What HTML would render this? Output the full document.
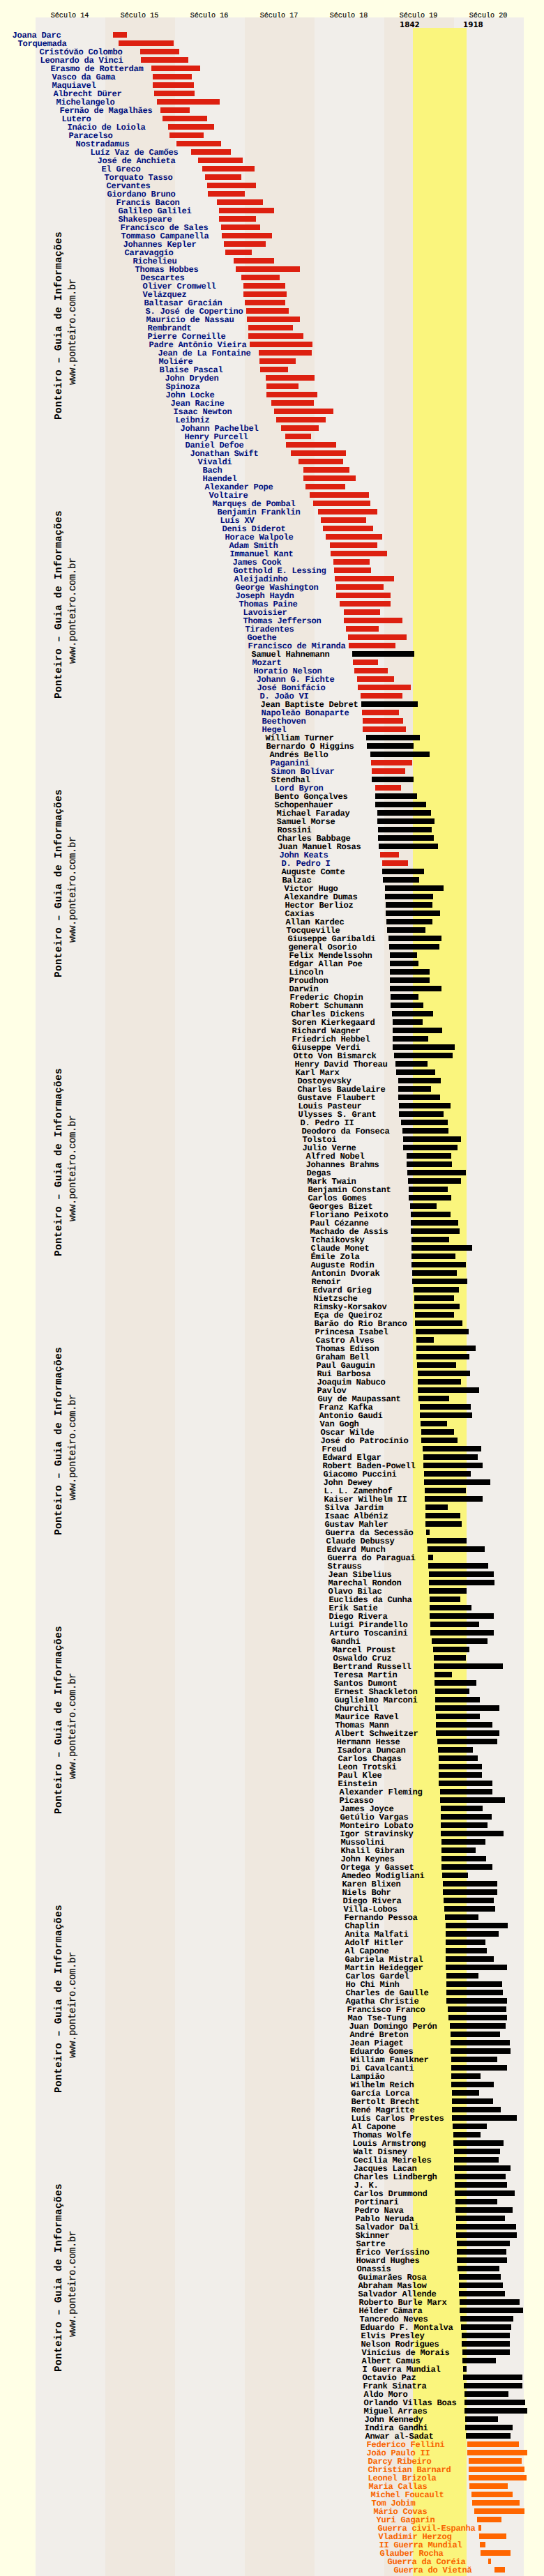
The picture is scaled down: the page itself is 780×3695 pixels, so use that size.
<!DOCTYPE html><html lang="pt"><head><meta charset="utf-8"><title>Linha do tempo</title><style>
html,body{margin:0;padding:0}
body{width:780px;height:3695px;position:relative;overflow:hidden;background:#ffffe6;font-family:"Liberation Mono","DejaVu Sans Mono",monospace}
.c{position:absolute;top:25px;height:3670px;width:100px}
.a{background:#f1eeea}.b{background:#efe8df}
.y{position:absolute;left:592px;top:40px;width:77px;height:3655px;background:#faf57d}
.h{position:absolute;top:15px;margin-left:-1px;width:100px;text-align:center;font-size:11.5px;line-height:14px;color:#000;transform:scaleX(.88);white-space:pre;-webkit-text-stroke:.2px #000}
.yr{position:absolute;top:30px;font:bold 11px/12px "DejaVu Sans","Liberation Sans",sans-serif;color:#000;transform:scaleX(.94);transform-origin:0 0}
.r{position:absolute;left:0;height:12px;width:780px}
.r b{position:absolute;top:1px;font-size:12.1px;letter-spacing:-.26px;text-rendering:geometricPrecision;line-height:12px;white-space:pre;font-weight:bold}
.r i{position:absolute;top:2px;height:8px}
.R b{color:#00107c}.R i{background:#dd2010}
.K b{color:#000}.K i{background:#000}
.O b{color:#f86400}.O i{background:#ff6600}
.v{position:absolute;left:0;width:0;height:0}
.v span{position:absolute;white-space:pre;transform-origin:0 0;transform:rotate(-90deg)}
.v .p{left:77px;top:0;font-weight:bold;font-size:14.4px;letter-spacing:.36px;line-height:15px;color:#000}
.v .w{left:98px;top:-50px;font-size:14px;letter-spacing:-.4px;line-height:13px;color:#111;-webkit-text-stroke:.2px #111}
</style></head><body>
<div class="c a" style="left:51px"></div>
<div class="c b" style="left:151px"></div>
<div class="c a" style="left:251px"></div>
<div class="c b" style="left:351px"></div>
<div class="c a" style="left:451px"></div>
<div class="c b" style="left:551px"></div>
<div class="c a" style="left:651px"></div>
<div class="y"></div>
<div class="h" style="left:51px">Século 14</div>
<div class="h" style="left:151px">Século 15</div>
<div class="h" style="left:251px">Século 16</div>
<div class="h" style="left:351px">Século 17</div>
<div class="h" style="left:451px">Século 18</div>
<div class="h" style="left:551px">Século 19</div>
<div class="h" style="left:651px">Século 20</div>
<div class="yr" style="left:573px">1842</div><div class="yr" style="left:664px">1918</div>
<div class="v" style="top:602px"><span class="p">Ponteiro – Guia de Informações</span><span class="w">www.ponteiro.com.br</span></div>
<div class="v" style="top:1002px"><span class="p">Ponteiro – Guia de Informações</span><span class="w">www.ponteiro.com.br</span></div>
<div class="v" style="top:1402px"><span class="p">Ponteiro – Guia de Informações</span><span class="w">www.ponteiro.com.br</span></div>
<div class="v" style="top:1802px"><span class="p">Ponteiro – Guia de Informações</span><span class="w">www.ponteiro.com.br</span></div>
<div class="v" style="top:2202px"><span class="p">Ponteiro – Guia de Informações</span><span class="w">www.ponteiro.com.br</span></div>
<div class="v" style="top:2602px"><span class="p">Ponteiro – Guia de Informações</span><span class="w">www.ponteiro.com.br</span></div>
<div class="v" style="top:3002px"><span class="p">Ponteiro – Guia de Informações</span><span class="w">www.ponteiro.com.br</span></div>
<div class="v" style="top:3402px"><span class="p">Ponteiro – Guia de Informações</span><span class="w">www.ponteiro.com.br</span></div>
<div class="r R" style="top:44px"><b style="left:17.5px">Joana Darc</b><i style="left:162px;width:20px"></i></div>
<div class="r R" style="top:56px"><b style="left:25.5px">Torquemada</b><i style="left:170px;width:79px"></i></div>
<div class="r R" style="top:68px"><b style="left:56.5px">Cristóvăo Colombo</b><i style="left:201px;width:56px"></i></div>
<div class="r R" style="top:80px"><b style="left:57.5px">Leonardo da Vinci</b><i style="left:202px;width:68px"></i></div>
<div class="r R" style="top:92px"><b style="left:72.5px">Erasmo de Rotterdam</b><i style="left:217px;width:70px"></i></div>
<div class="r R" style="top:104px"><b style="left:74.5px">Vasco da Gama</b><i style="left:219px;width:56px"></i></div>
<div class="r R" style="top:116px"><b style="left:74.5px">Maquiavel</b><i style="left:219px;width:59px"></i></div>
<div class="r R" style="top:128px"><b style="left:76.5px">Albrecht Dürer</b><i style="left:221px;width:58px"></i></div>
<div class="r R" style="top:140px"><b style="left:80.5px">Michelangelo</b><i style="left:225px;width:90px"></i></div>
<div class="r R" style="top:152px"><b style="left:85.5px">Fernăo de Magalhăes</b><i style="left:230px;width:42px"></i></div>
<div class="r R" style="top:164px"><b style="left:88.5px">Lutero</b><i style="left:233px;width:64px"></i></div>
<div class="r R" style="top:176px"><b style="left:96.5px">Inácio de Loiola</b><i style="left:241px;width:66px"></i></div>
<div class="r R" style="top:188px"><b style="left:98.5px">Paracelso</b><i style="left:243px;width:49px"></i></div>
<div class="r R" style="top:200px"><b style="left:108.5px">Nostradamus</b><i style="left:253px;width:64px"></i></div>
<div class="r R" style="top:212px"><b style="left:129.5px">Luíz Vaz de Camőes</b><i style="left:274px;width:57px"></i></div>
<div class="r R" style="top:224px"><b style="left:139.5px">José de Anchieta</b><i style="left:284px;width:64px"></i></div>
<div class="r R" style="top:236px"><b style="left:145.5px">El Greco</b><i style="left:290px;width:75px"></i></div>
<div class="r R" style="top:248px"><b style="left:149.5px">Torquato Tasso</b><i style="left:294px;width:52px"></i></div>
<div class="r R" style="top:260px"><b style="left:152.5px">Cervantes</b><i style="left:297px;width:70px"></i></div>
<div class="r R" style="top:272px"><b style="left:153.5px">Giordano Bruno</b><i style="left:298px;width:53px"></i></div>
<div class="r R" style="top:284px"><b style="left:166.5px">Francis Bacon</b><i style="left:311px;width:66px"></i></div>
<div class="r R" style="top:296px"><b style="left:169.5px">Galileo Galilei</b><i style="left:314px;width:79px"></i></div>
<div class="r R" style="top:308px"><b style="left:169.5px">Shakespeare</b><i style="left:314px;width:53px"></i></div>
<div class="r R" style="top:320px"><b style="left:172.5px">Francisco de Sales</b><i style="left:317px;width:56px"></i></div>
<div class="r R" style="top:332px"><b style="left:173.5px">Tommaso Campanella</b><i style="left:318px;width:72px"></i></div>
<div class="r R" style="top:344px"><b style="left:176.5px">Johannes Kepler</b><i style="left:321px;width:60px"></i></div>
<div class="r R" style="top:356px"><b style="left:178.5px">Caravaggio</b><i style="left:323px;width:38px"></i></div>
<div class="r R" style="top:368px"><b style="left:190.5px">Richelieu</b><i style="left:335px;width:58px"></i></div>
<div class="r R" style="top:380px"><b style="left:193.5px">Thomas Hobbes</b><i style="left:338px;width:92px"></i></div>
<div class="r R" style="top:392px"><b style="left:201.5px">Descartes</b><i style="left:346px;width:55px"></i></div>
<div class="r R" style="top:404px"><b style="left:204.5px">Oliver Cromwell</b><i style="left:349px;width:60px"></i></div>
<div class="r R" style="top:416px"><b style="left:204.5px">Velázquez</b><i style="left:349px;width:62px"></i></div>
<div class="r R" style="top:428px"><b style="left:206.5px">Baltasar Gracián</b><i style="left:351px;width:58px"></i></div>
<div class="r R" style="top:440px"><b style="left:208.5px">S. José de Copertino</b><i style="left:353px;width:61px"></i></div>
<div class="r R" style="top:452px"><b style="left:209.5px">Mauricio de Nassau</b><i style="left:354px;width:76px"></i></div>
<div class="r R" style="top:464px"><b style="left:211.5px">Rembrandt</b><i style="left:356px;width:64px"></i></div>
<div class="r R" style="top:476px"><b style="left:211.5px">Pierre Corneille</b><i style="left:356px;width:79px"></i></div>
<div class="r R" style="top:488px"><b style="left:213.5px">Padre Antônio Vieira</b><i style="left:358px;width:90px"></i></div>
<div class="r R" style="top:500px"><b style="left:226.5px">Jean de La Fontaine</b><i style="left:371px;width:76px"></i></div>
<div class="r R" style="top:512px"><b style="left:227.5px">Moliére</b><i style="left:372px;width:52px"></i></div>
<div class="r R" style="top:524px"><b style="left:228.5px">Blaise Pascal</b><i style="left:373px;width:40px"></i></div>
<div class="r R" style="top:536px"><b style="left:236.5px">John Dryden</b><i style="left:381px;width:70px"></i></div>
<div class="r R" style="top:548px"><b style="left:237.5px">Spinoza</b><i style="left:382px;width:46px"></i></div>
<div class="r R" style="top:560px"><b style="left:237.5px">John Locke</b><i style="left:382px;width:73px"></i></div>
<div class="r R" style="top:572px"><b style="left:244.5px">Jean Racine</b><i style="left:389px;width:61px"></i></div>
<div class="r R" style="top:584px"><b style="left:248.5px">Isaac Newton</b><i style="left:393px;width:85px"></i></div>
<div class="r R" style="top:596px"><b style="left:251.5px">Leibniz</b><i style="left:396px;width:71px"></i></div>
<div class="r R" style="top:608px"><b style="left:258.5px">Johann Pachelbel</b><i style="left:403px;width:54px"></i></div>
<div class="r R" style="top:620px"><b style="left:264.5px">Henry Purcell</b><i style="left:409px;width:37px"></i></div>
<div class="r R" style="top:632px"><b style="left:265.5px">Daniel Defoe</b><i style="left:410px;width:72px"></i></div>
<div class="r R" style="top:644px"><b style="left:272.5px">Jonathan Swift</b><i style="left:417px;width:79px"></i></div>
<div class="r R" style="top:656px"><b style="left:283.5px">Vivaldi</b><i style="left:428px;width:64px"></i></div>
<div class="r R" style="top:668px"><b style="left:290.5px">Bach</b><i style="left:435px;width:66px"></i></div>
<div class="r R" style="top:680px"><b style="left:290.5px">Haendel</b><i style="left:435px;width:75px"></i></div>
<div class="r R" style="top:692px"><b style="left:293.5px">Alexander Pope</b><i style="left:438px;width:57px"></i></div>
<div class="r R" style="top:704px"><b style="left:299.5px">Voltaire</b><i style="left:444px;width:85px"></i></div>
<div class="r R" style="top:716px"><b style="left:304.5px">Marquęs de Pombal</b><i style="left:449px;width:82px"></i></div>
<div class="r R" style="top:728px"><b style="left:311.5px">Benjamin Franklin</b><i style="left:456px;width:85px"></i></div>
<div class="r R" style="top:740px"><b style="left:315.5px">Luís XV</b><i style="left:460px;width:65px"></i></div>
<div class="r R" style="top:752px"><b style="left:318.5px">Denis Diderot</b><i style="left:463px;width:72px"></i></div>
<div class="r R" style="top:764px"><b style="left:322.5px">Horace Walpole</b><i style="left:467px;width:81px"></i></div>
<div class="r R" style="top:776px"><b style="left:328.5px">Adam Smith</b><i style="left:473px;width:68px"></i></div>
<div class="r R" style="top:788px"><b style="left:329.5px">Immanuel Kant</b><i style="left:474px;width:81px"></i></div>
<div class="r R" style="top:800px"><b style="left:333.5px">James Cook</b><i style="left:478px;width:52px"></i></div>
<div class="r R" style="top:812px"><b style="left:334.5px">Gotthold E. Lessing</b><i style="left:479px;width:53px"></i></div>
<div class="r R" style="top:824px"><b style="left:335.5px">Aleijadinho</b><i style="left:480px;width:85px"></i></div>
<div class="r R" style="top:836px"><b style="left:337.5px">George Washington</b><i style="left:482px;width:68px"></i></div>
<div class="r R" style="top:848px"><b style="left:337.5px">Joseph Haydn</b><i style="left:482px;width:78px"></i></div>
<div class="r R" style="top:860px"><b style="left:342.5px">Thomas Paine</b><i style="left:487px;width:73px"></i></div>
<div class="r R" style="top:872px"><b style="left:348.5px">Lavoisier</b><i style="left:493px;width:52px"></i></div>
<div class="r R" style="top:884px"><b style="left:348.5px">Thomas Jefferson</b><i style="left:493px;width:84px"></i></div>
<div class="r R" style="top:896px"><b style="left:351.5px">Tiradentes</b><i style="left:496px;width:47px"></i></div>
<div class="r R" style="top:908px"><b style="left:354.5px">Goethe</b><i style="left:499px;width:84px"></i></div>
<div class="r R" style="top:920px"><b style="left:355.5px">Francisco de Miranda</b><i style="left:500px;width:67px"></i></div>
<div class="r K" style="top:932px"><b style="left:360.5px">Samuel Hahnemann</b><i style="left:505px;width:89px"></i></div>
<div class="r R" style="top:944px"><b style="left:361.5px">Mozart</b><i style="left:506px;width:36px"></i></div>
<div class="r R" style="top:956px"><b style="left:363.5px">Horatio Nelson</b><i style="left:508px;width:48px"></i></div>
<div class="r R" style="top:968px"><b style="left:367.5px">Johann G. Fichte</b><i style="left:512px;width:53px"></i></div>
<div class="r R" style="top:980px"><b style="left:368.5px">José Bonifácio</b><i style="left:513px;width:76px"></i></div>
<div class="r R" style="top:992px"><b style="left:372.5px">D. Joăo VI</b><i style="left:517px;width:60px"></i></div>
<div class="r K" style="top:1004px"><b style="left:373.5px">Jean Baptiste Debret</b><i style="left:518px;width:81px"></i></div>
<div class="r R" style="top:1016px"><b style="left:374.5px">Napoleăo Bonaparte</b><i style="left:519px;width:53px"></i></div>
<div class="r R" style="top:1028px"><b style="left:375.5px">Beethoven</b><i style="left:520px;width:58px"></i></div>
<div class="r R" style="top:1040px"><b style="left:375.5px">Hegel</b><i style="left:520px;width:62px"></i></div>
<div class="r K" style="top:1052px"><b style="left:380.5px">William Turner</b><i style="left:525px;width:77px"></i></div>
<div class="r K" style="top:1064px"><b style="left:381.5px">Bernardo O Higgins</b><i style="left:526px;width:67px"></i></div>
<div class="r K" style="top:1076px"><b style="left:386.5px">Andrés Bello</b><i style="left:531px;width:85px"></i></div>
<div class="r R" style="top:1088px"><b style="left:387.5px">Paganini</b><i style="left:532px;width:59px"></i></div>
<div class="r R" style="top:1100px"><b style="left:388.5px">Simon Bolívar</b><i style="left:533px;width:48px"></i></div>
<div class="r K" style="top:1112px"><b style="left:388.5px">Stendhal</b><i style="left:533px;width:60px"></i></div>
<div class="r R" style="top:1124px"><b style="left:393.5px">Lord Byron</b><i style="left:538px;width:37px"></i></div>
<div class="r K" style="top:1136px"><b style="left:393.5px">Bento Gonçalves</b><i style="left:538px;width:60px"></i></div>
<div class="r K" style="top:1148px"><b style="left:393.5px">Schopenhauer</b><i style="left:538px;width:73px"></i></div>
<div class="r K" style="top:1160px"><b style="left:396.5px">Michael Faraday</b><i style="left:541px;width:77px"></i></div>
<div class="r K" style="top:1172px"><b style="left:396.5px">Samuel Morse</b><i style="left:541px;width:82px"></i></div>
<div class="r K" style="top:1184px"><b style="left:397.5px">Rossini</b><i style="left:542px;width:77px"></i></div>
<div class="r K" style="top:1196px"><b style="left:397.5px">Charles Babbage</b><i style="left:542px;width:80px"></i></div>
<div class="r K" style="top:1208px"><b style="left:398.5px">Juan Manuel Rosas</b><i style="left:543px;width:85px"></i></div>
<div class="r R" style="top:1220px"><b style="left:400.5px">John Keats</b><i style="left:545px;width:27px"></i></div>
<div class="r R" style="top:1232px"><b style="left:403.5px">D. Pedro I</b><i style="left:548px;width:37px"></i></div>
<div class="r K" style="top:1244px"><b style="left:403.5px">Auguste Comte</b><i style="left:548px;width:60px"></i></div>
<div class="r K" style="top:1256px"><b style="left:404.5px">Balzac</b><i style="left:549px;width:52px"></i></div>
<div class="r K" style="top:1268px"><b style="left:407.5px">Victor Hugo</b><i style="left:552px;width:84px"></i></div>
<div class="r K" style="top:1280px"><b style="left:407.5px">Alexandre Dumas</b><i style="left:552px;width:69px"></i></div>
<div class="r K" style="top:1292px"><b style="left:408.5px">Hector Berlioz</b><i style="left:553px;width:67px"></i></div>
<div class="r K" style="top:1304px"><b style="left:408.5px">Caxias</b><i style="left:553px;width:78px"></i></div>
<div class="r K" style="top:1316px"><b style="left:409.5px">Allan Kardec</b><i style="left:554px;width:66px"></i></div>
<div class="r K" style="top:1328px"><b style="left:410.5px">Tocqueville</b><i style="left:555px;width:55px"></i></div>
<div class="r K" style="top:1340px"><b style="left:412.5px">Giuseppe Garibaldi</b><i style="left:557px;width:76px"></i></div>
<div class="r K" style="top:1352px"><b style="left:413.5px">general Osorio</b><i style="left:558px;width:72px"></i></div>
<div class="r K" style="top:1364px"><b style="left:414.5px">Felix Mendelssohn</b><i style="left:559px;width:39px"></i></div>
<div class="r K" style="top:1376px"><b style="left:414.5px">Edgar Allan Poe</b><i style="left:559px;width:41px"></i></div>
<div class="r K" style="top:1388px"><b style="left:414.5px">Lincoln</b><i style="left:559px;width:57px"></i></div>
<div class="r K" style="top:1400px"><b style="left:414.5px">Proudhon</b><i style="left:559px;width:57px"></i></div>
<div class="r K" style="top:1412px"><b style="left:414.5px">Darwin</b><i style="left:559px;width:74px"></i></div>
<div class="r K" style="top:1424px"><b style="left:415.5px">Frederic Chopin</b><i style="left:560px;width:40px"></i></div>
<div class="r K" style="top:1436px"><b style="left:415.5px">Robert Schumann</b><i style="left:560px;width:47px"></i></div>
<div class="r K" style="top:1448px"><b style="left:417.5px">Charles Dickens</b><i style="left:562px;width:59px"></i></div>
<div class="r K" style="top:1460px"><b style="left:418.5px">Soren Kierkegaard</b><i style="left:563px;width:43px"></i></div>
<div class="r K" style="top:1472px"><b style="left:418.5px">Richard Wagner</b><i style="left:563px;width:71px"></i></div>
<div class="r K" style="top:1484px"><b style="left:418.5px">Friedrich Hebbel</b><i style="left:563px;width:51px"></i></div>
<div class="r K" style="top:1496px"><b style="left:418.5px">Giuseppe Verdi</b><i style="left:563px;width:89px"></i></div>
<div class="r K" style="top:1508px"><b style="left:420.5px">Otto Von Bismarck</b><i style="left:565px;width:84px"></i></div>
<div class="r K" style="top:1520px"><b style="left:422.5px">Henry David Thoreau</b><i style="left:567px;width:46px"></i></div>
<div class="r K" style="top:1532px"><b style="left:423.5px">Karl Marx</b><i style="left:568px;width:56px"></i></div>
<div class="r K" style="top:1544px"><b style="left:426.5px">Dostoyevsky</b><i style="left:571px;width:61px"></i></div>
<div class="r K" style="top:1556px"><b style="left:426.5px">Charles Baudelaire</b><i style="left:571px;width:47px"></i></div>
<div class="r K" style="top:1568px"><b style="left:426.5px">Gustave Flaubert</b><i style="left:571px;width:60px"></i></div>
<div class="r K" style="top:1580px"><b style="left:427.5px">Louis Pasteur</b><i style="left:572px;width:74px"></i></div>
<div class="r K" style="top:1592px"><b style="left:427.5px">Ulysses S. Grant</b><i style="left:572px;width:64px"></i></div>
<div class="r K" style="top:1604px"><b style="left:430.5px">D. Pedro II</b><i style="left:575px;width:67px"></i></div>
<div class="r K" style="top:1616px"><b style="left:432.5px">Deodoro da Fonseca</b><i style="left:577px;width:66px"></i></div>
<div class="r K" style="top:1628px"><b style="left:433.5px">Tolstoi</b><i style="left:578px;width:83px"></i></div>
<div class="r K" style="top:1640px"><b style="left:433.5px">Julio Verne</b><i style="left:578px;width:78px"></i></div>
<div class="r K" style="top:1652px"><b style="left:438.5px">Alfred Nobel</b><i style="left:583px;width:64px"></i></div>
<div class="r K" style="top:1664px"><b style="left:438.5px">Johannes Brahms</b><i style="left:583px;width:65px"></i></div>
<div class="r K" style="top:1676px"><b style="left:439.5px">Degas</b><i style="left:584px;width:84px"></i></div>
<div class="r K" style="top:1688px"><b style="left:440.5px">Mark Twain</b><i style="left:585px;width:76px"></i></div>
<div class="r K" style="top:1700px"><b style="left:441.5px">Benjamin Constant</b><i style="left:586px;width:56px"></i></div>
<div class="r K" style="top:1712px"><b style="left:441.5px">Carlos Gomes</b><i style="left:586px;width:61px"></i></div>
<div class="r K" style="top:1724px"><b style="left:443.5px">Georges Bizet</b><i style="left:588px;width:38px"></i></div>
<div class="r K" style="top:1736px"><b style="left:444.5px">Floriano Peixoto</b><i style="left:589px;width:57px"></i></div>
<div class="r K" style="top:1748px"><b style="left:444.5px">Paul Cézanne</b><i style="left:589px;width:68px"></i></div>
<div class="r K" style="top:1760px"><b style="left:444.5px">Machado de Assis</b><i style="left:589px;width:70px"></i></div>
<div class="r K" style="top:1772px"><b style="left:445.5px">Tchaikovsky</b><i style="left:590px;width:54px"></i></div>
<div class="r K" style="top:1784px"><b style="left:445.5px">Claude Monet</b><i style="left:590px;width:87px"></i></div>
<div class="r K" style="top:1796px"><b style="left:445.5px">Émile Zola</b><i style="left:590px;width:63px"></i></div>
<div class="r K" style="top:1808px"><b style="left:445.5px">Auguste Rodin</b><i style="left:590px;width:78px"></i></div>
<div class="r K" style="top:1820px"><b style="left:446.5px">Antonin Dvorak</b><i style="left:591px;width:64px"></i></div>
<div class="r K" style="top:1832px"><b style="left:446.5px">Renoir</b><i style="left:591px;width:79px"></i></div>
<div class="r K" style="top:1844px"><b style="left:448.5px">Edvard Grieg</b><i style="left:593px;width:65px"></i></div>
<div class="r K" style="top:1856px"><b style="left:449.5px">Nietzsche</b><i style="left:594px;width:57px"></i></div>
<div class="r K" style="top:1868px"><b style="left:449.5px">Rimsky-Korsakov</b><i style="left:594px;width:65px"></i></div>
<div class="r K" style="top:1880px"><b style="left:450.5px">Eça de Queiroz</b><i style="left:595px;width:56px"></i></div>
<div class="r K" style="top:1892px"><b style="left:450.5px">Barăo do Rio Branco</b><i style="left:595px;width:68px"></i></div>
<div class="r K" style="top:1904px"><b style="left:451.5px">Princesa Isabel</b><i style="left:596px;width:76px"></i></div>
<div class="r K" style="top:1916px"><b style="left:452.5px">Castro Alves</b><i style="left:597px;width:25px"></i></div>
<div class="r K" style="top:1928px"><b style="left:452.5px">Thomas Edison</b><i style="left:597px;width:85px"></i></div>
<div class="r K" style="top:1940px"><b style="left:452.5px">Graham Bell</b><i style="left:597px;width:76px"></i></div>
<div class="r K" style="top:1952px"><b style="left:453.5px">Paul Gauguin</b><i style="left:598px;width:56px"></i></div>
<div class="r K" style="top:1964px"><b style="left:454.5px">Rui Barbosa</b><i style="left:599px;width:75px"></i></div>
<div class="r K" style="top:1976px"><b style="left:454.5px">Joaquim Nabuco</b><i style="left:599px;width:62px"></i></div>
<div class="r K" style="top:1988px"><b style="left:454.5px">Pavlov</b><i style="left:599px;width:88px"></i></div>
<div class="r K" style="top:2000px"><b style="left:455.5px">Guy de Maupassant</b><i style="left:600px;width:44px"></i></div>
<div class="r K" style="top:2012px"><b style="left:457.5px">Franz Kafka</b><i style="left:602px;width:73px"></i></div>
<div class="r K" style="top:2024px"><b style="left:457.5px">Antonio Gaudí</b><i style="left:602px;width:75px"></i></div>
<div class="r K" style="top:2036px"><b style="left:458.5px">Van Gogh</b><i style="left:603px;width:38px"></i></div>
<div class="r K" style="top:2048px"><b style="left:459.5px">Oscar Wilde</b><i style="left:604px;width:47px"></i></div>
<div class="r K" style="top:2060px"><b style="left:459.5px">José do Patrocínio</b><i style="left:604px;width:52px"></i></div>
<div class="r K" style="top:2072px"><b style="left:461.5px">Freud</b><i style="left:606px;width:84px"></i></div>
<div class="r K" style="top:2084px"><b style="left:462.5px">Edward Elgar</b><i style="left:607px;width:78px"></i></div>
<div class="r K" style="top:2096px"><b style="left:462.5px">Robert Baden-Powell</b><i style="left:607px;width:85px"></i></div>
<div class="r K" style="top:2108px"><b style="left:463.5px">Giacomo Puccini</b><i style="left:608px;width:67px"></i></div>
<div class="r K" style="top:2120px"><b style="left:463.5px">John Dewey</b><i style="left:608px;width:95px"></i></div>
<div class="r K" style="top:2132px"><b style="left:464.5px">L. L. Zamenhof</b><i style="left:609px;width:59px"></i></div>
<div class="r K" style="top:2144px"><b style="left:464.5px">Kaiser Wilhelm II</b><i style="left:609px;width:83px"></i></div>
<div class="r K" style="top:2156px"><b style="left:465.5px">Silva Jardim</b><i style="left:610px;width:32px"></i></div>
<div class="r K" style="top:2168px"><b style="left:465.5px">Isaac Albéniz</b><i style="left:610px;width:50px"></i></div>
<div class="r K" style="top:2180px"><b style="left:465.5px">Gustav Mahler</b><i style="left:610px;width:52px"></i></div>
<div class="r K" style="top:2192px"><b style="left:466.5px">Guerra da Secessăo</b><i style="left:611px;width:5px"></i></div>
<div class="r K" style="top:2204px"><b style="left:467.5px">Claude Debussy</b><i style="left:612px;width:57px"></i></div>
<div class="r K" style="top:2216px"><b style="left:468.5px">Edvard Munch</b><i style="left:613px;width:82px"></i></div>
<div class="r K" style="top:2228px"><b style="left:469.5px">Guerra do Paraguai</b><i style="left:614px;width:7px"></i></div>
<div class="r K" style="top:2240px"><b style="left:469.5px">Strauss</b><i style="left:614px;width:86px"></i></div>
<div class="r K" style="top:2252px"><b style="left:470.5px">Jean Sibelius</b><i style="left:615px;width:93px"></i></div>
<div class="r K" style="top:2264px"><b style="left:470.5px">Marechal Rondon</b><i style="left:615px;width:94px"></i></div>
<div class="r K" style="top:2276px"><b style="left:470.5px">Olavo Bilac</b><i style="left:615px;width:54px"></i></div>
<div class="r K" style="top:2288px"><b style="left:471.5px">Euclides da Cunha</b><i style="left:616px;width:44px"></i></div>
<div class="r K" style="top:2300px"><b style="left:471.5px">Erik Satie</b><i style="left:616px;width:60px"></i></div>
<div class="r K" style="top:2312px"><b style="left:471.5px">Diego Rivera</b><i style="left:616px;width:92px"></i></div>
<div class="r K" style="top:2324px"><b style="left:472.5px">Luigi Pirandello</b><i style="left:617px;width:70px"></i></div>
<div class="r K" style="top:2336px"><b style="left:472.5px">Arturo Toscanini</b><i style="left:617px;width:91px"></i></div>
<div class="r K" style="top:2348px"><b style="left:474.5px">Gandhi</b><i style="left:619px;width:80px"></i></div>
<div class="r K" style="top:2360px"><b style="left:476.5px">Marcel Proust</b><i style="left:621px;width:52px"></i></div>
<div class="r K" style="top:2372px"><b style="left:477.5px">Oswaldo Cruz</b><i style="left:622px;width:46px"></i></div>
<div class="r K" style="top:2384px"><b style="left:477.5px">Bertrand Russell</b><i style="left:622px;width:99px"></i></div>
<div class="r K" style="top:2396px"><b style="left:478.5px">Teresa Martin</b><i style="left:623px;width:25px"></i></div>
<div class="r K" style="top:2408px"><b style="left:478.5px">Santos Dumont</b><i style="left:623px;width:60px"></i></div>
<div class="r K" style="top:2420px"><b style="left:479.5px">Ernest Shackleton</b><i style="left:624px;width:49px"></i></div>
<div class="r K" style="top:2432px"><b style="left:479.5px">Guglielmo Marconi</b><i style="left:624px;width:64px"></i></div>
<div class="r K" style="top:2444px"><b style="left:479.5px">Churchill</b><i style="left:624px;width:92px"></i></div>
<div class="r K" style="top:2456px"><b style="left:480.5px">Maurice Ravel</b><i style="left:625px;width:63px"></i></div>
<div class="r K" style="top:2468px"><b style="left:480.5px">Thomas Mann</b><i style="left:625px;width:81px"></i></div>
<div class="r K" style="top:2480px"><b style="left:480.5px">Albert Schweitzer</b><i style="left:625px;width:91px"></i></div>
<div class="r K" style="top:2492px"><b style="left:482.5px">Hermann Hesse</b><i style="left:627px;width:86px"></i></div>
<div class="r K" style="top:2504px"><b style="left:483.5px">Isadora Duncan</b><i style="left:628px;width:50px"></i></div>
<div class="r K" style="top:2516px"><b style="left:484.5px">Carlos Chagas</b><i style="left:629px;width:56px"></i></div>
<div class="r K" style="top:2528px"><b style="left:484.5px">Leon Trotski</b><i style="left:629px;width:62px"></i></div>
<div class="r K" style="top:2540px"><b style="left:484.5px">Paul Klee</b><i style="left:629px;width:62px"></i></div>
<div class="r K" style="top:2552px"><b style="left:484.5px">Einstein</b><i style="left:629px;width:77px"></i></div>
<div class="r K" style="top:2564px"><b style="left:486.5px">Alexander Fleming</b><i style="left:631px;width:75px"></i></div>
<div class="r K" style="top:2576px"><b style="left:486.5px">Picasso</b><i style="left:631px;width:93px"></i></div>
<div class="r K" style="top:2588px"><b style="left:487.5px">James Joyce</b><i style="left:632px;width:60px"></i></div>
<div class="r K" style="top:2600px"><b style="left:487.5px">Getúlio Vargas</b><i style="left:632px;width:73px"></i></div>
<div class="r K" style="top:2612px"><b style="left:487.5px">Monteiro Lobato</b><i style="left:632px;width:67px"></i></div>
<div class="r K" style="top:2624px"><b style="left:487.5px">Igor Stravinsky</b><i style="left:632px;width:90px"></i></div>
<div class="r K" style="top:2636px"><b style="left:488.5px">Mussolini</b><i style="left:633px;width:63px"></i></div>
<div class="r K" style="top:2648px"><b style="left:488.5px">Khalil Gibran</b><i style="left:633px;width:49px"></i></div>
<div class="r K" style="top:2660px"><b style="left:488.5px">John Keynes</b><i style="left:633px;width:64px"></i></div>
<div class="r K" style="top:2672px"><b style="left:488.5px">Ortega y Gasset</b><i style="left:633px;width:73px"></i></div>
<div class="r K" style="top:2684px"><b style="left:489.5px">Amedeo Modigliani</b><i style="left:634px;width:37px"></i></div>
<div class="r K" style="top:2696px"><b style="left:490.5px">Karen Blixen</b><i style="left:635px;width:78px"></i></div>
<div class="r K" style="top:2708px"><b style="left:490.5px">Niels Bohr</b><i style="left:635px;width:78px"></i></div>
<div class="r K" style="top:2720px"><b style="left:491.5px">Diego Rivera</b><i style="left:636px;width:72px"></i></div>
<div class="r K" style="top:2732px"><b style="left:492.5px">Villa-Lobos</b><i style="left:637px;width:73px"></i></div>
<div class="r K" style="top:2744px"><b style="left:493.5px">Fernando Pessoa</b><i style="left:638px;width:48px"></i></div>
<div class="r K" style="top:2756px"><b style="left:494.5px">Chaplin</b><i style="left:639px;width:89px"></i></div>
<div class="r K" style="top:2768px"><b style="left:494.5px">Anita Malfati</b><i style="left:639px;width:76px"></i></div>
<div class="r K" style="top:2780px"><b style="left:494.5px">Adolf Hitler</b><i style="left:639px;width:57px"></i></div>
<div class="r K" style="top:2792px"><b style="left:494.5px">Al Capone</b><i style="left:639px;width:59px"></i></div>
<div class="r K" style="top:2804px"><b style="left:494.5px">Gabriela Mistral</b><i style="left:639px;width:69px"></i></div>
<div class="r K" style="top:2816px"><b style="left:494.5px">Martin Heidegger</b><i style="left:639px;width:88px"></i></div>
<div class="r K" style="top:2828px"><b style="left:495.5px">Carlos Gardel</b><i style="left:640px;width:46px"></i></div>
<div class="r K" style="top:2840px"><b style="left:495.5px">Ho Chi Minh</b><i style="left:640px;width:80px"></i></div>
<div class="r K" style="top:2852px"><b style="left:495.5px">Charles de Gaulle</b><i style="left:640px;width:81px"></i></div>
<div class="r K" style="top:2864px"><b style="left:495.5px">Agatha Christie</b><i style="left:640px;width:87px"></i></div>
<div class="r K" style="top:2876px"><b style="left:497.5px">Francisco Franco</b><i style="left:642px;width:84px"></i></div>
<div class="r K" style="top:2888px"><b style="left:498.5px">Mao Tse-Tung</b><i style="left:643px;width:84px"></i></div>
<div class="r K" style="top:2900px"><b style="left:500.5px">Juan Domingo Perón</b><i style="left:645px;width:80px"></i></div>
<div class="r K" style="top:2912px"><b style="left:501.5px">André Breton</b><i style="left:646px;width:71px"></i></div>
<div class="r K" style="top:2924px"><b style="left:501.5px">Jean Piaget</b><i style="left:646px;width:85px"></i></div>
<div class="r K" style="top:2936px"><b style="left:501.5px">Eduardo Gomes</b><i style="left:646px;width:86px"></i></div>
<div class="r K" style="top:2948px"><b style="left:502.5px">William Faulkner</b><i style="left:647px;width:66px"></i></div>
<div class="r K" style="top:2960px"><b style="left:502.5px">Di Cavalcanti</b><i style="left:647px;width:80px"></i></div>
<div class="r K" style="top:2972px"><b style="left:502.5px">Lampiăo</b><i style="left:647px;width:42px"></i></div>
<div class="r K" style="top:2984px"><b style="left:502.5px">Wilhelm Reich</b><i style="left:647px;width:61px"></i></div>
<div class="r K" style="top:2996px"><b style="left:503.5px">García Lorca</b><i style="left:648px;width:39px"></i></div>
<div class="r K" style="top:3008px"><b style="left:503.5px">Bertolt Brecht</b><i style="left:648px;width:59px"></i></div>
<div class="r K" style="top:3020px"><b style="left:503.5px">René Magritte</b><i style="left:648px;width:70px"></i></div>
<div class="r K" style="top:3032px"><b style="left:503.5px">Luís Carlos Prestes</b><i style="left:648px;width:93px"></i></div>
<div class="r K" style="top:3044px"><b style="left:504.5px">Al Capone</b><i style="left:649px;width:49px"></i></div>
<div class="r K" style="top:3056px"><b style="left:505.5px">Thomas Wolfe</b><i style="left:650px;width:39px"></i></div>
<div class="r K" style="top:3068px"><b style="left:505.5px">Louis Armstrong</b><i style="left:650px;width:72px"></i></div>
<div class="r K" style="top:3080px"><b style="left:506.5px">Walt Disney</b><i style="left:651px;width:66px"></i></div>
<div class="r K" style="top:3092px"><b style="left:506.5px">Cecília Meireles</b><i style="left:651px;width:64px"></i></div>
<div class="r K" style="top:3104px"><b style="left:506.5px">Jacques Lacan</b><i style="left:651px;width:81px"></i></div>
<div class="r K" style="top:3116px"><b style="left:507.5px">Charles Lindbergh</b><i style="left:652px;width:73px"></i></div>
<div class="r K" style="top:3128px"><b style="left:507.5px">J. K.</b><i style="left:652px;width:75px"></i></div>
<div class="r K" style="top:3140px"><b style="left:507.5px">Carlos Drummond</b><i style="left:652px;width:86px"></i></div>
<div class="r K" style="top:3152px"><b style="left:508.5px">Portinari</b><i style="left:653px;width:60px"></i></div>
<div class="r K" style="top:3164px"><b style="left:508.5px">Pedro Nava</b><i style="left:653px;width:82px"></i></div>
<div class="r K" style="top:3176px"><b style="left:509.5px">Pablo Neruda</b><i style="left:654px;width:70px"></i></div>
<div class="r K" style="top:3188px"><b style="left:509.5px">Salvador Dali</b><i style="left:654px;width:86px"></i></div>
<div class="r K" style="top:3200px"><b style="left:509.5px">Skinner</b><i style="left:654px;width:87px"></i></div>
<div class="r K" style="top:3212px"><b style="left:510.5px">Sartre</b><i style="left:655px;width:76px"></i></div>
<div class="r K" style="top:3224px"><b style="left:510.5px">Érico Veríssino</b><i style="left:655px;width:71px"></i></div>
<div class="r K" style="top:3236px"><b style="left:510.5px">Howard Hughes</b><i style="left:655px;width:72px"></i></div>
<div class="r K" style="top:3248px"><b style="left:511.5px">Onassis</b><i style="left:656px;width:60px"></i></div>
<div class="r K" style="top:3260px"><b style="left:513.5px">Guimarăes Rosa</b><i style="left:658px;width:60px"></i></div>
<div class="r K" style="top:3272px"><b style="left:513.5px">Abraham Maslow</b><i style="left:658px;width:63px"></i></div>
<div class="r K" style="top:3284px"><b style="left:513.5px">Salvador Allende</b><i style="left:658px;width:66px"></i></div>
<div class="r K" style="top:3296px"><b style="left:514.5px">Roberto Burle Marx</b><i style="left:659px;width:86px"></i></div>
<div class="r K" style="top:3308px"><b style="left:514.5px">Hélder Câmara</b><i style="left:659px;width:91px"></i></div>
<div class="r K" style="top:3320px"><b style="left:515.5px">Tancredo Neves</b><i style="left:660px;width:76px"></i></div>
<div class="r K" style="top:3332px"><b style="left:516.5px">Eduardo F. Montalva</b><i style="left:661px;width:72px"></i></div>
<div class="r K" style="top:3344px"><b style="left:517.5px">Elvis Presley</b><i style="left:662px;width:69px"></i></div>
<div class="r K" style="top:3356px"><b style="left:517.5px">Nelson Rodrigues</b><i style="left:662px;width:69px"></i></div>
<div class="r K" style="top:3368px"><b style="left:518.5px">Vinícius de Morais</b><i style="left:663px;width:68px"></i></div>
<div class="r K" style="top:3380px"><b style="left:518.5px">Albert Camus</b><i style="left:663px;width:48px"></i></div>
<div class="r K" style="top:3392px"><b style="left:519.5px">I Guerra Mundial</b><i style="left:664px;width:5px"></i></div>
<div class="r K" style="top:3404px"><b style="left:519.5px">Octavio Paz</b><i style="left:664px;width:85px"></i></div>
<div class="r K" style="top:3416px"><b style="left:520.5px">Frank Sinatra</b><i style="left:665px;width:84px"></i></div>
<div class="r K" style="top:3428px"><b style="left:521.5px">Aldo Moro</b><i style="left:666px;width:63px"></i></div>
<div class="r K" style="top:3440px"><b style="left:521.5px">Orlando Villas Boas</b><i style="left:666px;width:87px"></i></div>
<div class="r K" style="top:3452px"><b style="left:521.5px">Miguel Arraes</b><i style="left:666px;width:90px"></i></div>
<div class="r K" style="top:3464px"><b style="left:522.5px">John Kennedy</b><i style="left:667px;width:47px"></i></div>
<div class="r K" style="top:3476px"><b style="left:522.5px">Indira Gandhi</b><i style="left:667px;width:68px"></i></div>
<div class="r K" style="top:3488px"><b style="left:523.5px">Anwar al-Sadat</b><i style="left:668px;width:64px"></i></div>
<div class="r O" style="top:3500px"><b style="left:525.5px">Federico Fellini</b><i style="left:670px;width:74px"></i></div>
<div class="r O" style="top:3512px"><b style="left:525.5px">Joăo Paulo II</b><i style="left:670px;width:86px"></i></div>
<div class="r O" style="top:3524px"><b style="left:527.5px">Darcy Ribeiro</b><i style="left:672px;width:76px"></i></div>
<div class="r O" style="top:3536px"><b style="left:527.5px">Christian Barnard</b><i style="left:672px;width:80px"></i></div>
<div class="r O" style="top:3548px"><b style="left:527.5px">Leonel Brizola</b><i style="left:672px;width:83px"></i></div>
<div class="r O" style="top:3560px"><b style="left:528.5px">Maria Callas</b><i style="left:673px;width:55px"></i></div>
<div class="r O" style="top:3572px"><b style="left:531.5px">Michel Foucault</b><i style="left:676px;width:59px"></i></div>
<div class="r O" style="top:3584px"><b style="left:532.5px">Tom Jobim</b><i style="left:677px;width:68px"></i></div>
<div class="r O" style="top:3596px"><b style="left:535.5px">Mário Covas</b><i style="left:680px;width:72px"></i></div>
<div class="r O" style="top:3608px"><b style="left:539.5px">Yuri Gagarin</b><i style="left:684px;width:35px"></i></div>
<div class="r O" style="top:3620px"><b style="left:541.5px">Guerra civil-Espanha</b><i style="left:686px;width:4px"></i></div>
<div class="r O" style="top:3632px"><b style="left:542.5px">Vladimir Herzog</b><i style="left:687px;width:39px"></i></div>
<div class="r O" style="top:3644px"><b style="left:543.5px">II Guerra Mundial</b><i style="left:688px;width:8px"></i></div>
<div class="r O" style="top:3656px"><b style="left:544.5px">Glauber Rocha</b><i style="left:689px;width:43px"></i></div>
<div class="r O" style="top:3668px"><b style="left:555.5px">Guerra da Coréia</b><i style="left:700px;width:4px"></i></div>
<div class="r O" style="top:3680px"><b style="left:564.5px">Guerra do Vietnă</b><i style="left:709px;width:15px"></i></div>
</body></html>
